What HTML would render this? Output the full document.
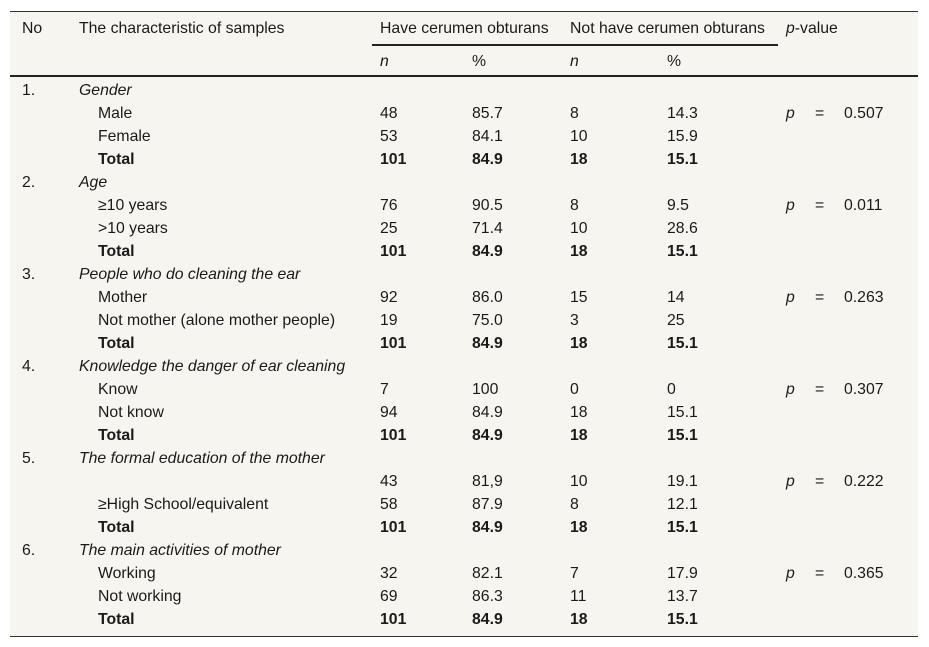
<!DOCTYPE html>
<html><head><meta charset="utf-8"><style>
body{margin:0;width:929px;height:647px;background:#fff;font-family:"Liberation Sans",sans-serif;font-size:15.8px;color:#1a1a1a;position:relative;overflow:hidden}
#tbl{position:absolute;left:10px;top:11px;width:908px;height:624px;background:#f7f5ef;border-top:1px solid #333;border-bottom:1px solid #333}
.t{position:absolute;white-space:nowrap;line-height:18px;transform:translateY(-7px)}
.ln{position:absolute;background:#222}
</style></head><body>
<div id="tbl"></div>
<div class="ln" style="left:372px;top:44px;width:406px;height:2px"></div>
<div class="ln" style="left:10px;top:75px;width:908px;height:2px"></div>
<script>
const rows=[
["1.","Gender",0,"","","","",""],
["","Male",1,"48","85.7","8","14.3","0.507"],
["","Female",1,"53","84.1","10","15.9",""],
["","Total",2,"101","84.9","18","15.1",""],
["2.","Age",0,"","","","",""],
["","≥10 years",1,"76","90.5","8","9.5","0.011"],
["","&gt;10 years",1,"25","71.4","10","28.6",""],
["","Total",2,"101","84.9","18","15.1",""],
["3.","People who do cleaning the ear",0,"","","","",""],
["","Mother",1,"92","86.0","15","14","0.263"],
["","Not mother (alone mother people)",1,"19","75.0","3","25",""],
["","Total",2,"101","84.9","18","15.1",""],
["4.","Knowledge the danger of ear cleaning",0,"","","","",""],
["","Know",1,"7","100","0","0","0.307"],
["","Not know",1,"94","84.9","18","15.1",""],
["","Total",2,"101","84.9","18","15.1",""],
["5.","The formal education of the mother",0,"","","","",""],
["","",1,"43","81,9","10","19.1","0.222"],
["","≥High School/equivalent",1,"58","87.9","8","12.1",""],
["","Total",2,"101","84.9","18","15.1",""],
["6.","The main activities of mother",0,"","","","",""],
["","Working",1,"32","82.1","7","17.9","0.365"],
["","Not working",1,"69","86.3","11","13.7",""],
["","Total",2,"101","84.9","18","15.1",""]];
function put(x,y,html,name,style){const d=document.createElement('div');d.className='t';d.style.left=x+'px';d.style.top=y+'px';if(style)d.style.cssText+=style;d.innerHTML=html;


document.body.appendChild(d);}
put(22,27,'No','header-no');
put(79,27,'The characteristic of samples','header-characteristic');
put(380,27,'Have cerumen obturans','header-have');
put(570,27,'Not have cerumen obturans','header-not-have');
put(786,27,'<i>p</i>-value','header-p-value');
put(380,60,'<i>n</i>','header-n1');put(472,60,'%','header-pct1');
put(570,60,'<i>n</i>','header-n2');put(667,60,'%','header-pct2');
rows.forEach((r,i)=>{const y=89+23*i;
if(r[0])put(22,y,r[0],'row-number');
if(r[2]===0){put(79,y,'<i>'+r[1]+'</i>','group-title');return;}
const w=r[2]===2?'font-weight:bold':'';
if(r[1])put(98,y,r[1],'row-label',w);
put(380,y,r[3],'have-n',w);put(472,y,r[4],'have-pct',w);
put(570,y,r[5],'not-have-n',w);put(667,y,r[6],'not-have-pct',w);
if(r[7]){put(786,y,'<i>p</i>','p-symbol');put(815,y,'=','p-equals');put(844,y,r[7],'p-value');}
});
</script>
</body></html>
